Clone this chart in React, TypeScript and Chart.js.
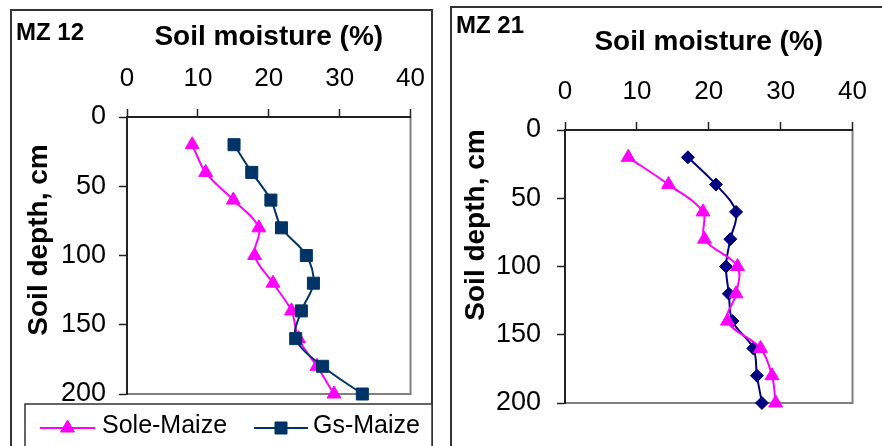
import React, { useEffect, useRef } from 'react';
import { Chart, registerables } from 'chart.js';
import { drawPoint } from 'chart.js/helpers';

Chart.register(...registerables);

// ---------- data ----------
const depths = [20, 40, 60, 80, 100, 120, 140, 160, 180, 200];
const xTickValues = [0, 10, 20, 30, 40];
const yTickValues = [0, 50, 100, 150, 200];
const seriesNames = ['Sole-Maize', 'Gs-Maize'];
const panelNames = ['MZ 12', 'MZ 21'];
const xTitleText = 'Soil moisture (%)';
const yTitleText = 'Soil depth, cm';

const mz12Sole = [9.2, 11.1, 15.0, 18.6, 18.0, 20.6, 23.2, 24.2, 26.8, 29.2];
const mz12Gs = [15.1, 17.6, 20.3, 21.8, 25.3, 26.3, 24.6, 23.8, 27.6, 33.2];
const mz21Sole = [8.8, 14.4, 19.2, 19.4, 24.0, 23.8, 22.6, 27.2, 28.8, 29.3];
const mz21Gs = [17.1, 21.0, 23.8, 23.0, 22.4, 22.8, 23.3, 26.2, 26.7, 27.4];

// ---------- styles ----------
const FONT = '"Liberation Sans", Arial, Helvetica, sans-serif';
const MAGENTA = '#FF00FF';
const AXIS = '#222222';

type Panel = {
  name: string;
  sole: number[];
  gs: number[];
  gsColor: string;
  gsStyle: string;
  gsRadius: number;
  gsOnTop: boolean;
  left: number;
  width: number;
  height: number;
  pad: { left: number; right: number; top: number; bottom: number };
  yWidth: number;
  xHeight: number;
  yTickPad: number;
  frame: { x: number; y: number; w: number; h: number };
  mz: { x: number; y: number };
  xTitleY: number;
  yTitle: { x: number; y: number };
  legend: null | { box: { x: number; y: number; w: number; h: number }; y: number; textY: number; items: { x0: number; x1: number; tx: number }[] };
};

const panels: Panel[] = [
  {
    name: panelNames[0],
    sole: mz12Sole,
    gs: mz12Gs,
    gsColor: '#003366',
    gsStyle: 'rect',
    gsRadius: 8.5,
    gsOnTop: true,
    left: 0,
    width: 440,
    height: 446,
    pad: { left: 0, right: 25, top: 0, bottom: 52 },
    yWidth: 127,
    xHeight: 117,
    yTickPad: 13,
    frame: { x: 11, y: 10, w: 421, h: 500 },
    mz: { x: 16, y: 40 },
    xTitleY: 45,
    yTitle: { x: 47, y: 240 },
    legend: {
      box: { x: 25, y: 404, w: 407, h: 100 },
      y: 428,
      textY: 433,
      items: [
        { x0: 40, x1: 95, tx: 102 },
        { x0: 254, x1: 308, tx: 313 },
      ],
    },
  },
  {
    name: panelNames[1],
    sole: mz21Sole,
    gs: mz21Gs,
    gsColor: '#000080',
    gsStyle: 'rectRot',
    gsRadius: 6.5,
    gsOnTop: false,
    left: 440,
    width: 442,
    height: 446,
    pad: { left: 0, right: 17, top: 0, bottom: 43 },
    yWidth: 125,
    xHeight: 130,
    yTickPad: 16,
    frame: { x: 11, y: 7, w: 500, h: 500 },
    mz: { x: 16, y: 33 },
    xTitleY: 50,
    yTitle: { x: 44, y: 225 },
    legend: null,
  },
];

const decorPlugin = {
  id: 'decor',
  beforeDraw(chart: any, _args: any, opts: any) {
    const p: Panel = opts.panel;
    const ctx = chart.ctx;
    const a = chart.chartArea;
    ctx.save();
    ctx.fillStyle = '#ffffff';
    ctx.fillRect(0, 0, chart.width, chart.height);
    ctx.strokeStyle = '#333333';
    ctx.lineWidth = 2;
    ctx.strokeRect(p.frame.x, p.frame.y, p.frame.w, p.frame.h);
    ctx.strokeStyle = '#808080';
    ctx.lineWidth = 2;
    ctx.strokeRect(a.left, a.top, a.right - a.left, a.bottom - a.top);
    ctx.restore();
  },
  afterDraw(chart: any, _args: any, opts: any) {
    const p: Panel = opts.panel;
    const ctx = chart.ctx;
    const a = chart.chartArea;
    ctx.save();
    ctx.fillStyle = '#000000';
    ctx.textBaseline = 'alphabetic';
    // panel name
    ctx.font = `bold 24px ${FONT}`;
    ctx.textAlign = 'left';
    ctx.fillText(p.name, p.mz.x, p.mz.y);
    // x title
    ctx.font = `bold 28px ${FONT}`;
    ctx.textAlign = 'center';
    ctx.fillText(xTitleText, (a.left + a.right) / 2, p.xTitleY);
    // y title
    ctx.save();
    ctx.translate(p.yTitle.x, p.yTitle.y);
    ctx.rotate(-Math.PI / 2);
    ctx.fillText(yTitleText, 0, 0);
    ctx.restore();
    // legend
    if (p.legend) {
      const L = p.legend;
      ctx.fillStyle = '#ffffff';
      ctx.fillRect(L.box.x, L.box.y, L.box.w, L.box.h);
      ctx.strokeStyle = '#333333';
      ctx.lineWidth = 1.5;
      ctx.strokeRect(L.box.x, L.box.y, L.box.w, L.box.h);
      chart.data.datasets.forEach((ds: any, i: number) => {
        const it = L.items[i];
        ctx.strokeStyle = ds.borderColor;
        ctx.lineWidth = ds.borderWidth;
        ctx.beginPath();
        ctx.moveTo(it.x0, L.y);
        ctx.lineTo(it.x1, L.y);
        ctx.stroke();
        ctx.fillStyle = ds.pointBackgroundColor;
        ctx.strokeStyle = ds.pointBorderColor;
        ctx.lineWidth = 1;
        drawPoint(ctx, { pointStyle: ds.pointStyle, radius: ds.pointRadius, rotation: 0, borderWidth: 1 } as any, (it.x0 + it.x1) / 2, L.y);
        ctx.fillStyle = '#000000';
        ctx.font = `25px ${FONT}`;
        ctx.textAlign = 'left';
        ctx.fillText(ds.label, it.tx, L.textY);
      });
    }
    ctx.restore();
  },
};

function makeConfig(p: Panel): any {
  const pts = (vals: number[]) => vals.map((v, i) => ({ x: v, y: depths[i] }));
  return {
    type: 'scatter',
    data: {
      datasets: [
        {
          label: seriesNames[0],
          data: pts(p.sole),
          showLine: true,
          borderColor: MAGENTA,
          backgroundColor: MAGENTA,
          pointBackgroundColor: MAGENTA,
          pointBorderColor: MAGENTA,
          borderWidth: 2,
          pointStyle: 'triangle',
          pointRadius: 8,
          pointBorderWidth: 1,
          tension: 0.35,
          clip: false,
          order: p.gsOnTop ? 1 : 0,
        },
        {
          label: seriesNames[1],
          data: pts(p.gs),
          showLine: true,
          borderColor: p.gsColor,
          backgroundColor: p.gsColor,
          pointBackgroundColor: p.gsColor,
          pointBorderColor: p.gsColor,
          borderWidth: 2,
          pointStyle: p.gsStyle,
          pointRadius: p.gsRadius,
          pointBorderWidth: 1,
          tension: 0.35,
          clip: false,
          order: p.gsOnTop ? 0 : 1,
        },
      ],
    },
    options: {
      responsive: false,
      animation: false,
      events: [],
      layout: { padding: p.pad },
      plugins: {
        legend: { display: false },
        tooltip: { enabled: false },
        title: { display: false },
        decor: { panel: p },
      },
      scales: {
        x: {
          type: 'linear',
          position: 'top',
          min: 0,
          max: 40,
          afterBuildTicks: (s: any) => {
            s.ticks = xTickValues.map((v) => ({ value: v }));
          },
          afterFit: (s: any) => {
            s.height = p.xHeight;
          },
          ticks: { font: { family: FONT, size: 26 }, color: '#000', padding: 15, maxRotation: 0, autoSkip: false },
          grid: { display: true, drawOnChartArea: false, drawTicks: true, tickLength: 8, tickColor: AXIS, tickWidth: 1.5 },
          border: { display: true, color: AXIS, width: 2 },
        },
        y: {
          type: 'linear',
          position: 'left',
          min: 0,
          max: 200,
          reverse: true,
          afterBuildTicks: (s: any) => {
            s.ticks = yTickValues.map((v) => ({ value: v }));
          },
          afterFit: (s: any) => {
            s.width = p.yWidth;
          },
          ticks: { font: { family: FONT, size: 27 }, color: '#000', padding: p.yTickPad, autoSkip: false },
          grid: { display: true, drawOnChartArea: false, drawTicks: true, tickLength: 8, tickColor: AXIS, tickWidth: 1.5 },
          border: { display: true, color: AXIS, width: 2 },
        },
      },
    },
    plugins: [decorPlugin],
  };
}

function PanelChart({ p }: { p: Panel }) {
  const ref = useRef<HTMLCanvasElement>(null);
  useEffect(() => {
    const chart = new Chart(ref.current as HTMLCanvasElement, makeConfig(p));
    return () => chart.destroy();
  }, [p]);
  return (
    <canvas
      ref={ref}
      width={p.width}
      height={p.height}
      style={{ position: 'absolute', left: p.left, top: 0, width: p.width, height: p.height, display: 'block' }}
    />
  );
}

export default function App() {
  return (
    <div style={{ position: 'absolute', left: 0, top: 0, width: 882, height: 446, overflow: 'hidden', background: '#fff' }}>
      {panels.map((p) => (
        <PanelChart key={p.name} p={p} />
      ))}
    </div>
  );
}
